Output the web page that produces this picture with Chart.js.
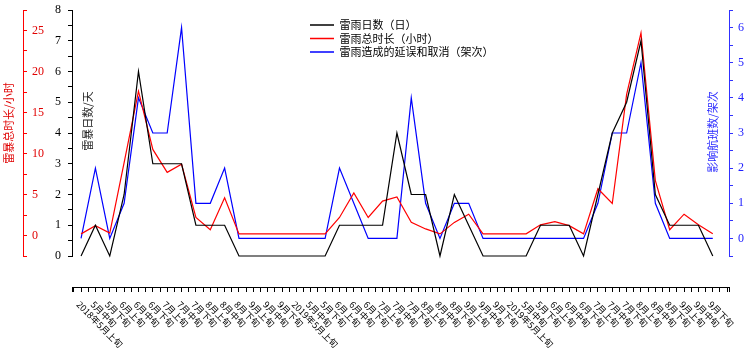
<!DOCTYPE html>
<html lang="zh-CN">
<head>
<meta charset="utf-8">
<title>雷雨日数、时长与航班影响</title>
<script src="https://cdn.jsdelivr.net/npm/chart.js@4.4.1/dist/chart.umd.min.js"></script>
<style>
    html, body { margin: 0; padding: 0; background: #fff; }
    #stormChart { display: block; }
</style>
</head>
<body>
<canvas id="stormChart" width="748" height="350"></canvas>
<script>
// 旬 labels, three seasons of 5月上旬 .. 9月下旬 (the third one is labelled 2019 in the source too)
const periodLabels = [
    '2018年5月上旬', '5月中旬', '5月下旬', '6月上旬', '6月中旬', '6月下旬', '7月上旬', '7月中旬', '7月下旬',
    '8月上旬', '8月中旬', '8月下旬', '9月上旬', '9月中旬', '9月下旬',
    '2019年5月上旬', '5月中旬', '5月下旬', '6月上旬', '6月中旬', '6月下旬', '7月上旬', '7月中旬', '7月下旬',
    '8月上旬', '8月中旬', '8月下旬', '9月上旬', '9月中旬', '9月下旬',
    '2019年5月上旬', '5月中旬', '5月下旬', '6月上旬', '6月中旬', '6月下旬', '7月上旬', '7月中旬', '7月下旬',
    '8月上旬', '8月中旬', '8月下旬', '9月上旬', '9月中旬', '9月下旬'
];

const stormDays = [
    0, 1, 0, 2, 6, 3, 3, 3, 1, 1, 1, 0, 0, 0, 0,
    0, 0, 0, 1, 1, 1, 1, 4, 2, 2, 0, 2, 1, 0, 0,
    0, 0, 1, 1, 1, 0, 2, 4, 5, 7, 2, 1, 1, 1, 0
];

const stormHours = [
    0.2, 1.2, 0.3, 8.9, 17.6, 10.5, 7.7, 8.7, 2.2, 0.7, 4.6, 0.2, 0.2, 0.2, 0.2,
    0.2, 0.2, 0.2, 2.2, 5.2, 2.2, 4.2, 4.7, 1.6, 0.8, 0.2, 1.6, 2.6, 0.2, 0.2,
    0.2, 0.2, 1.3, 1.7, 1.2, 0.2, 5.7, 3.9, 17.2, 24.7, 6.7, 0.7, 2.6, 1.3, 0.2
];

const affectedFlights = [
    0, 2, 0, 1, 4, 3, 3, 6, 1, 1, 2, 0, 0, 0, 0,
    0, 0, 0, 2, 1, 0, 0, 0, 4, 1, 0, 1, 1, 0, 0,
    0, 0, 0, 0, 0, 0, 1, 3, 3, 5, 1, 0, 0, 0, 0
];

const seriesNames = ['雷雨日数（日）', '雷雨总时长（小时）', '雷雨造成的延误和取消（架次）'];
const seriesColors = ['#000000', '#ff0000', '#0000ff'];

const CJK = '"Noto Sans CJK SC", sans-serif';
const SERIF = '"Liberation Serif", "DejaVu Serif", serif';

// linear axis whose rotated labels start at the tick and run down to the right
class DateTickScale extends Chart.LinearScale {
    _computeLabelItems(chartArea) {
        const items = super._computeLabelItems(chartArea);
        items.forEach(item => {
            item.options.textAlign = 'left';
            item.options.translation[0] -= 3;
        });
        return items;
    }
}
DateTickScale.id = 'dateTicks';
DateTickScale.defaults = Chart.LinearScale.defaults;
Chart.register(DateTickScale);

function toPoints(values) {
    return values.map((v, i) => ({ x: i, y: v }));
}

// fixed box width for a vertical axis, and no extra room asked for its end labels
function fixWidth(width) {
    return s => {
        s.width = width;
        s.paddingTop = 0;
        s.paddingBottom = 0;
    };
}

function drawVerticalText(ctx, text, x, y, color) {
    ctx.save();
    ctx.translate(x, y);
    ctx.rotate(-Math.PI / 2);
    ctx.font = '11px ' + CJK;
    ctx.fillStyle = color;
    ctx.textAlign = 'center';
    ctx.textBaseline = 'middle';
    ctx.fillText(text, 0, 0);
    ctx.restore();
}

// axis names: red one left of its axis line, black and blue ones inside the plot
const axisTitles = {
    id: 'axisTitles',
    afterDraw(chart) {
        const { ctx, chartArea } = chart;
        const red = chart.scales.yr;
        drawVerticalText(ctx, '雷暴总时长/小时', red.left + 9, chartArea.top + 113, '#e00000');
        drawVerticalText(ctx, '雷暴日数/天', chartArea.left + 16, chartArea.top + 111, '#222');
        drawVerticalText(ctx, '影响航班数/架次', chartArea.right - 16, chartArea.top + 122, '#2a2aff');
    }
};

// move the legend box into the upper middle of the plot
const legendPlacement = {
    id: 'legendPlacement',
    afterLayout(chart) {
        const lg = chart.legend;
        const pad = lg.options.labels.padding;
        lg.left = chart.chartArea.left + 238 - pad;
        lg.top = chart.chartArea.top + 9.5 - pad;
        lg.right = lg.left + lg.width;
        lg.bottom = lg.top + lg.height;
    }
};

function lineDataset(idx, values, axisId) {
    return {
        label: seriesNames[idx],
        data: toPoints(values),
        xAxisID: 'x',
        yAxisID: axisId,
        borderColor: seriesColors[idx],
        backgroundColor: seriesColors[idx],
        borderWidth: 1.2,
        pointRadius: 0,
        tension: 0,
        fill: false,
        clip: false
    };
}

function createStormChart() {
    const ctx = document.getElementById('stormChart').getContext('2d');
    Chart.defaults.font.family = SERIF;

    return new Chart(ctx, {
        type: 'line',
        data: {
            datasets: [
                lineDataset(0, stormDays, 'y'),
                lineDataset(1, stormHours, 'yr'),
                lineDataset(2, affectedFlights, 'yb')
            ]
        },
        plugins: [axisTitles, legendPlacement],
        options: {
            responsive: false,
            animation: false,
            devicePixelRatio: 1,
            events: [],
            layout: { padding: { top: 10, right: 0, bottom: 0, left: 0 } },
            plugins: {
                tooltip: { enabled: false },
                legend: {
                    position: 'chartArea',
                    align: 'start',
                    labels: {
                        usePointStyle: true,
                        pointStyle: 'line',
                        pointStyleWidth: 24,
                        padding: 2.5,
                        color: '#000',
                        font: { family: CJK, size: 11 },
                        generateLabels(chart) {
                            const items = Chart.defaults.plugins.legend.labels.generateLabels(chart);
                            items.forEach(it => { it.lineWidth = 1.6; });
                            return items;
                        }
                    }
                }
            },
            scales: {
                y: {
                    type: 'linear',
                    position: 'left',
                    min: 0,
                    max: 8,
                    ticks: {
                        stepSize: 0.5,
                        autoSkip: false,
                        padding: 7,
                        color: '#000',
                        font: { family: SERIF, size: 12 },
                        callback: v => Number.isInteger(v) ? v : ''
                    },
                    grid: { drawOnChartArea: false, color: '#000', tickLength: 4 },
                    border: { color: '#000' },
                    afterFit: fixWidth(49)
                },
                yr: {
                    type: 'linear',
                    position: 'left',
                    min: -2.5,
                    max: 27.5,
                    ticks: {
                        stepSize: 2.5,
                        autoSkip: false,
                        mirror: true,
                        padding: 9,
                        color: '#e00000',
                        font: { family: SERIF, size: 12 },
                        callback: v => (v >= 0 && v % 5 === 0) ? v : ''
                    },
                    grid: { drawOnChartArea: false, color: '#ff0000', tickLength: -4 },
                    border: { color: '#ff0000' },
                    afterFit: fixWidth(23)
                },
                yb: {
                    type: 'linear',
                    position: 'right',
                    min: -0.5,
                    max: 6.5,
                    ticks: {
                        stepSize: 0.5,
                        autoSkip: false,
                        padding: 5,
                        color: '#2020ff',
                        font: { family: SERIF, size: 12 },
                        callback: v => (Number.isInteger(v) && v >= 0) ? v : ''
                    },
                    grid: { drawOnChartArea: false, color: '#3030ff', tickLength: 4 },
                    border: { color: '#3030ff' },
                    afterFit: fixWidth(19)
                },
                // empty spacer so the date axis hangs below the plot
                xgap: {
                    type: 'linear',
                    position: 'bottom',
                    display: true,
                    grid: { display: false },
                    border: { display: false },
                    ticks: { display: false },
                    afterFit: s => { s.height = 31; }
                },
                x: {
                    type: 'dateTicks',
                    position: 'bottom',
                    min: -0.63,
                    max: 45.13,
                    ticks: {
                        stepSize: 0.5,
                        autoSkip: false,
                        minRotation: -45,
                        maxRotation: -45,
                        padding: 7,
                        color: '#000',
                        font: { family: CJK, size: 9 },
                        callback: v => (Number.isInteger(v) && periodLabels[v]) ? periodLabels[v] : ''
                    },
                    grid: { drawOnChartArea: false, color: '#000', tickLength: 5 },
                    border: { color: '#000' },
                    afterFit: s => { s.height = 63; }
                }
            }
        }
    });
}

let stormChart;
document.addEventListener('DOMContentLoaded', function() {
    stormChart = createStormChart();
});
</script>
</body>
</html>
